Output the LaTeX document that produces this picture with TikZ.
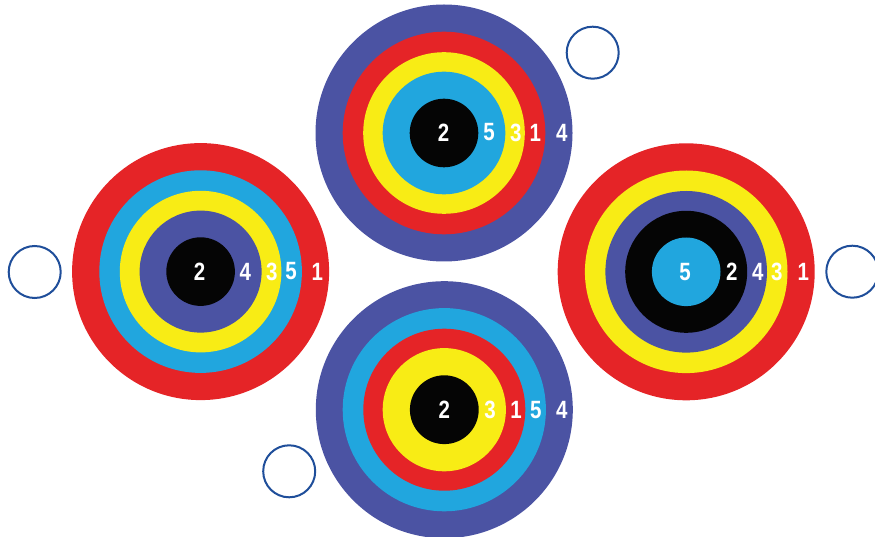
\documentclass[tikz,border=0pt]{standalone}
\usepackage{fontspec}
\newfontfamily\labfont[FakeStretch=0.82]{Liberation Sans}
\definecolor{tpurple}{HTML}{4B53A3}
\definecolor{tred}{HTML}{E52427}
\definecolor{tyellow}{HTML}{F8EC15}
\definecolor{tblue}{HTML}{21A6DE}
\definecolor{tblack}{HTML}{050505}
\definecolor{tring}{HTML}{1F4E9A}
\begin{document}
\begin{tikzpicture}[x=1pt,y=-1pt,
  lab/.style={text=white,font=\labfont\bfseries\fontsize{25}{25}\selectfont,inner sep=0pt},
  emptyring/.style={draw=tring,line width=2pt,fill=white}]
\useasboundingbox (0,0) rectangle (875,537);
% top target
\coordinate (T) at (444,133);
\fill[tpurple] (T) circle (128.5);
\fill[tred] (T) circle (101.3);
\fill[tyellow] (T) circle (80.8);
\fill[tblue] (T) circle (61.3);
\fill[tblack] (T) circle (34.3);
\node[lab] (t2) at (443.5,132.5) {2};
\node[lab] (t5) at (489,132.5) {5};
\node[lab] (t3) at (515.7,132.5) {3};
\node[lab] (t1) at (535.3,132.5) {1};
\node[lab] (t4) at (561.7,132.5) {4};
% left target
\coordinate (L) at (200.6,271.6);
\fill[tred] (L) circle (128.5);
\fill[tblue] (L) circle (101.3);
\fill[tyellow] (L) circle (80.8);
\fill[tpurple] (L) circle (61);
\fill[tblack] (L) circle (34.3);
\node[lab] (l2) at (199.5,271.5) {2};
\node[lab] (l4) at (245.3,271.5) {4};
\node[lab] (l3) at (271.7,271.5) {3};
\node[lab] (l5) at (291,271.5) {5};
\node[lab] (l1) at (317.3,271.5) {1};
% right target
\coordinate (R) at (686.2,271.8);
\fill[tred] (R) circle (128.5);
\fill[tyellow] (R) circle (101.3);
\fill[tpurple] (R) circle (80.8);
\fill[tblack] (R) circle (61);
\fill[tblue] (R) circle (34.3);
\node[lab] (r5) at (685,272) {5};
\node[lab] (r2) at (731.7,272) {2};
\node[lab] (r4) at (757.7,272) {4};
\node[lab] (r3) at (776.7,272) {3};
\node[lab] (r1) at (803.3,272) {1};
% bottom target
\coordinate (B) at (444.3,409.7);
\fill[tpurple] (B) circle (128.5);
\fill[tblue] (B) circle (101.6);
\fill[tred] (B) circle (81);
\fill[tyellow] (B) circle (61.6);
\fill[tblack] (B) circle (34.4);
\node[lab] (b2) at (444.3,410) {2};
\node[lab] (b3) at (490,410) {3};
\node[lab] (b1) at (516,410) {1};
\node[lab] (b5) at (535.7,410) {5};
\node[lab] (b4) at (561.7,410) {4};
% empty circles
\draw[emptyring] (592.7,52.7) circle (26);
\draw[emptyring] (34.7,272) circle (26);
\draw[emptyring] (852.3,271.7) circle (26);
\draw[emptyring] (289.2,471.3) circle (26);
\end{tikzpicture}
\end{document}
